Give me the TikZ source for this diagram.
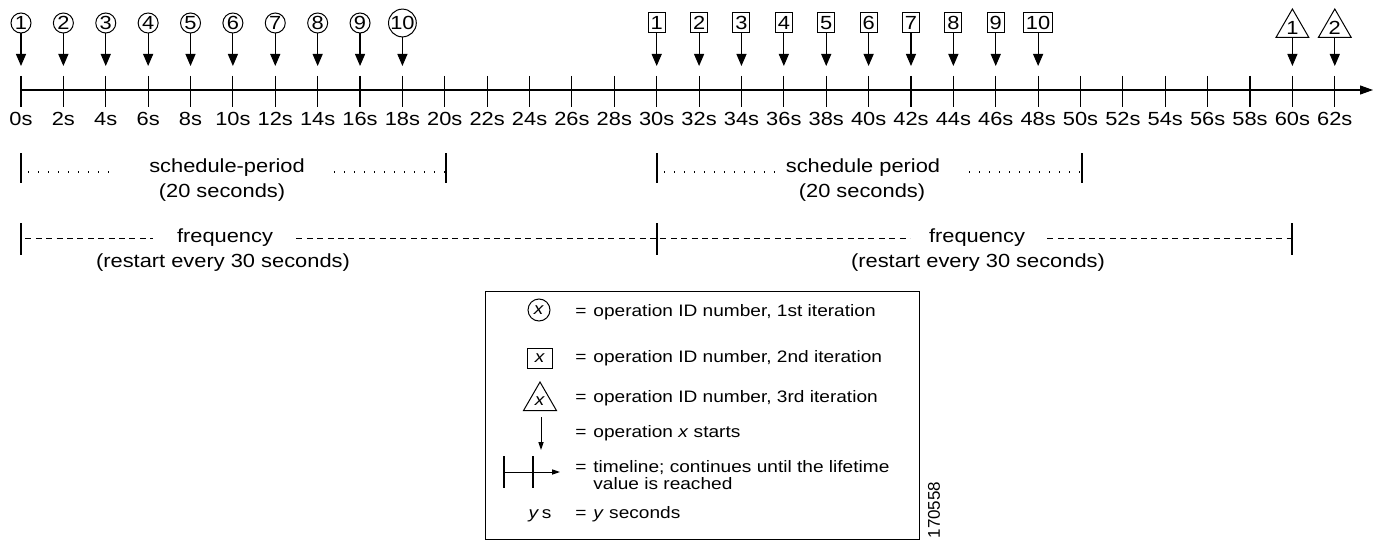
\documentclass[tikz,border=0pt]{standalone}
\usepackage{fontspec}
\setmainfont{Liberation Sans}[FakeStretch=1.15]
\newfontfamily\plainsans{Liberation Sans}
\usetikzlibrary{arrows.meta,shapes.geometric}
\newcommand\keyfont{\fontsize{8.3pt}{10pt}\selectfont}

\tikzset{
  opcirc/.style={draw, circle, line width=0.5pt, inner sep=0pt, minimum size=10pt},
  opbox/.style={draw, rectangle, line width=0.5pt, inner xsep=1.2pt, inner ysep=0pt, minimum height=10pt},
  optri/.style={draw, regular polygon, regular polygon sides=3, line width=0.5pt, inner sep=0pt, minimum size=19pt},
  oparrow/.style={line width=0.55pt, -{Triangle[length=6pt,width=5pt]}, shorten >=5pt},
  keyarrow/.style={line width=0.5pt, -{Triangle[length=4pt,width=2.6pt]}},
  axisline/.style={line width=0.55pt, -{Triangle[length=6.5pt,width=4.5pt]}},
  tickline/.style={line width=0.55pt},
  barline/.style={line width=0.6pt},
  dotline/.style={line width=0.6pt, dash pattern=on 0.6pt off 4.4pt, dash phase=1.5pt},
  dashline/.style={line width=0.5pt, dash pattern=on 3pt off 2.2pt, dash phase=3pt},
  ticklab/.style={anchor=base, inner sep=0pt},
  rowlab/.style={anchor=base, inner sep=0pt},
  keylab/.style={anchor=base west, inner sep=0pt, font=\keyfont}
}

\begin{document}
\begin{tikzpicture}[x=0.5pt, y=-0.5pt, font=\fontsize{9.5pt}{11pt}\selectfont]
  \useasboundingbox (0,0) rectangle (1380,540);

  %%%%% TIMELINE %%%%%
  \coordinate (tl0) at (21,90);
  \coordinate (tlend) at (1373,90);
  \draw[axisline] (tl0) -- (tlend);
  \foreach \tm in {0,2,...,62} {
    \coordinate (k\tm) at ({21+\tm*21.19},76);
    \coordinate (kb\tm) at ({21+\tm*21.19},107);
    \draw[tickline] (k\tm) -- (kb\tm);
    \node[ticklab] (lab\tm) at ({21+\tm*21.19},126) {\tm s};
  }

  %%%%% 1st, 2nd and 3rd iteration %%%%%
  \foreach \n [evaluate=\n as \tm using int(2*\n-2)] in {1,...,10} {
    \node[opcirc] (c\n) at ({21+\tm*21.19},23) {\n};
    \draw[oparrow] (c\n) -- (k\tm);
  }
  \foreach \n [evaluate=\n as \tm using int(28+2*\n)] in {1,...,10} {
    \node[opbox] (s\n) at ({21+\tm*21.19},23) {\n};
    \draw[oparrow] (s\n) -- (k\tm);
  }
  \foreach \n [evaluate=\n as \tm using int(58+2*\n)] in {1,2} {
    \node[optri] (tr\n) at ({21+\tm*21.19},28) {\n};
    \draw[oparrow] (tr\n) -- (k\tm);
  }

  %%%%% schedule period %%%%%
  \draw[barline] (21,153) -- (21,183);
  \draw[barline] (446,153) -- (446,183);
  \draw[dotline] (21,172) -- (115,172);
  \draw[dotline] (327,172) -- (446,172);
  \node[rowlab] (sched1) at (227,172) {schedule-period};
  \node[rowlab] (sched1s) at (222,197) {(20 seconds)};

  \draw[barline] (657,153) -- (657,183);
  \draw[barline] (1082,153) -- (1082,183);
  \draw[dotline] (657,172) -- (782,172);
  \draw[dotline] (962,172) -- (1082,172);
  \node[rowlab] (sched2) at (863,172) {schedule period};
  \node[rowlab] (sched2s) at (862,197) {(20 seconds)};

  %%%%% frequency %%%%%
  \draw[barline] (21,223) -- (21,255);
  \draw[barline] (657,223) -- (657,255);
  \draw[barline] (1292,223) -- (1292,255);
  \draw[dashline] (21,238) -- (153,238);
  \draw[dashline] (292,238) -- (910,238);
  \draw[dashline] (1043,238) -- (1292,238);
  \node[rowlab] (freq1) at (225,242) {frequency};
  \node[rowlab] (freq1s) at (223,267) {(restart every 30 seconds)};
  \node[rowlab] (freq2) at (977,242) {frequency};
  \node[rowlab] (freq2s) at (978,267) {(restart every 30 seconds)};

  %%%%% KEY %%%%%
  \draw[line width=0.5pt] (485,291) rectangle (919,539);

  \node[opcirc, minimum size=11pt, font=\keyfont] (keyc) at (539,310) {\textit{x}};
  \node[opbox, minimum width=12.5pt, font=\keyfont] (keyb) at (540,358) {\textit{x}};
  \node[optri, font=\keyfont] (keyt) at (540,401) {\textit{x}};
  \coordinate (keya1) at (541,417);
  \coordinate (keya2) at (541,450);
  \draw[keyarrow] (keya1) -- (keya2);
  \coordinate (keyl0) at (504,472);
  \coordinate (keyl1) at (560,472);
  \draw[keyarrow] (keyl0) -- (keyl1);
  \draw[tickline] (504,456) -- (504,488);
  \draw[tickline] (533,456) -- (533,488);
  \node[anchor=base, inner sep=0pt, font=\keyfont] (keyy) at (540,518) {\textit{y}\,s};

  \foreach \r/\yb in {1/316,2/362,3/402,4/437,5/472,6/518}
    \node[keylab] (eq\r) at (575,\yb) {=};
  \node[keylab] (key1) at (593,316) {operation ID number, 1st iteration};
  \node[keylab] (key2) at (593,362) {operation ID number, 2nd iteration};
  \node[keylab] (key3) at (593,402) {operation ID number, 3rd iteration};
  \node[keylab] (key4) at (593,437) {operation \textit{x} starts};
  \node[keylab] (key5) at (593,472) {timeline; continues until the lifetime};
  \node[keylab] (key5b) at (593,489) {value is reached};
  \node[keylab] (key6) at (593,518) {\textit{y} seconds};

  \node[rotate=90, inner sep=0pt, font=\plainsans\fontsize{8.5pt}{8.5pt}\selectfont] (figid) at (934,510) {170558};
\end{tikzpicture}
\end{document}
